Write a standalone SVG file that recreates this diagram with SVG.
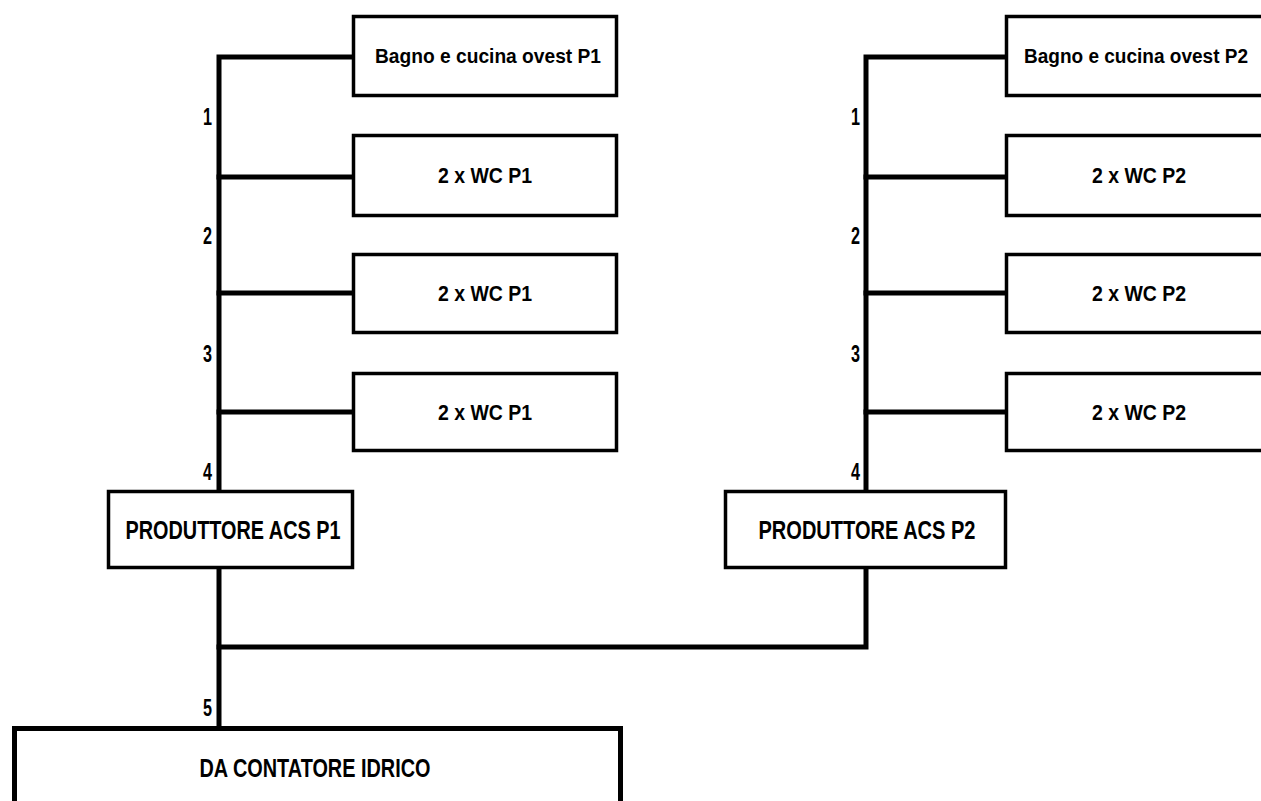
<svg xmlns="http://www.w3.org/2000/svg" width="1261" height="801" viewBox="0 0 1261 801">
<style>
.box{fill:#fff;stroke:#000;stroke-width:3.5}
.big{fill:#fff;stroke:#000;stroke-width:5}
.wire{fill:none;stroke:#000;stroke-width:5;stroke-linecap:square}
text{font-family:"Liberation Sans Narrow","Arial Narrow","Liberation Sans",Arial,sans-serif;font-stretch:condensed;font-weight:bold;font-size:22px;fill:#000}
.lbl{text-anchor:middle}
.bg{font-size:21px}
.bg2{font-size:20px}
.cap{font-size:26px}
.num{text-anchor:end;font-size:23px}
</style>
<rect width="1261" height="801" fill="#fff"/>
<g id="connectors">
<path class="wire" d="M352 57 H219 V490"/>
<path class="wire" d="M219 177 H352 M219 293 H352 M219 412 H352"/>
<path class="wire" d="M1005 57 H866 V490"/>
<path class="wire" d="M866 177 H1005 M866 293 H1005 M866 412 H1005"/>
<path class="wire" d="M219 569 V726"/>
<path class="wire" d="M219 647 H866 V569"/>
<text class="num" x="212" y="125" textLength="9" lengthAdjust="spacingAndGlyphs">1</text>
<text class="num" x="212" y="244" textLength="9" lengthAdjust="spacingAndGlyphs">2</text>
<text class="num" x="212" y="362" textLength="9" lengthAdjust="spacingAndGlyphs">3</text>
<text class="num" x="212" y="480" textLength="9" lengthAdjust="spacingAndGlyphs">4</text>
<text class="num" x="212" y="716" textLength="9" lengthAdjust="spacingAndGlyphs">5</text>
<text class="num" x="860" y="125" textLength="9" lengthAdjust="spacingAndGlyphs">1</text>
<text class="num" x="860" y="244" textLength="9" lengthAdjust="spacingAndGlyphs">2</text>
<text class="num" x="860" y="362" textLength="9" lengthAdjust="spacingAndGlyphs">3</text>
<text class="num" x="860" y="480" textLength="9" lengthAdjust="spacingAndGlyphs">4</text>
</g>
<g id="n_bagno_p1"><rect class="box" x="353.5" y="16.5" width="263" height="79"/><text class="lbl bg" x="488" y="63" textLength="226" lengthAdjust="spacingAndGlyphs">Bagno e cucina ovest P1</text></g>
<g id="n_wc1_p1"><rect class="box" x="353.5" y="135.5" width="263" height="80"/><text class="lbl" x="485" y="183" textLength="94" lengthAdjust="spacingAndGlyphs">2 x WC P1</text></g>
<g id="n_wc2_p1"><rect class="box" x="353.5" y="254.5" width="263" height="78"/><text class="lbl" x="485" y="301" textLength="94" lengthAdjust="spacingAndGlyphs">2 x WC P1</text></g>
<g id="n_wc3_p1"><rect class="box" x="353.5" y="373.5" width="263" height="77"/><text class="lbl" x="485" y="420" textLength="94" lengthAdjust="spacingAndGlyphs">2 x WC P1</text></g>
<g id="n_bagno_p2"><rect class="box" x="1006.5" y="16.5" width="263" height="79"/><text class="lbl bg2" x="1136" y="63" textLength="224" lengthAdjust="spacingAndGlyphs">Bagno e cucina ovest P2</text></g>
<g id="n_wc1_p2"><rect class="box" x="1006.5" y="135.5" width="263" height="80"/><text class="lbl" x="1139" y="183" textLength="94" lengthAdjust="spacingAndGlyphs">2 x WC P2</text></g>
<g id="n_wc2_p2"><rect class="box" x="1006.5" y="254.5" width="263" height="78"/><text class="lbl" x="1139" y="301" textLength="94" lengthAdjust="spacingAndGlyphs">2 x WC P2</text></g>
<g id="n_wc3_p2"><rect class="box" x="1006.5" y="373.5" width="263" height="77"/><text class="lbl" x="1139" y="420" textLength="94" lengthAdjust="spacingAndGlyphs">2 x WC P2</text></g>
<g id="n_prod_p1"><rect class="box" x="108.5" y="491.5" width="244" height="76"/><text class="lbl cap" x="233" y="539" textLength="215" lengthAdjust="spacingAndGlyphs">PRODUTTORE ACS P1</text></g>
<g id="n_prod_p2"><rect class="box" x="725.5" y="491.5" width="280" height="76"/><text class="lbl cap" x="867" y="539" textLength="217" lengthAdjust="spacingAndGlyphs">PRODUTTORE ACS P2</text></g>
<g id="n_contatore"><rect class="big" x="14.5" y="728.5" width="606" height="100"/><text class="lbl cap" x="315" y="777" textLength="231" lengthAdjust="spacingAndGlyphs">DA CONTATORE IDRICO</text></g>
</svg>
